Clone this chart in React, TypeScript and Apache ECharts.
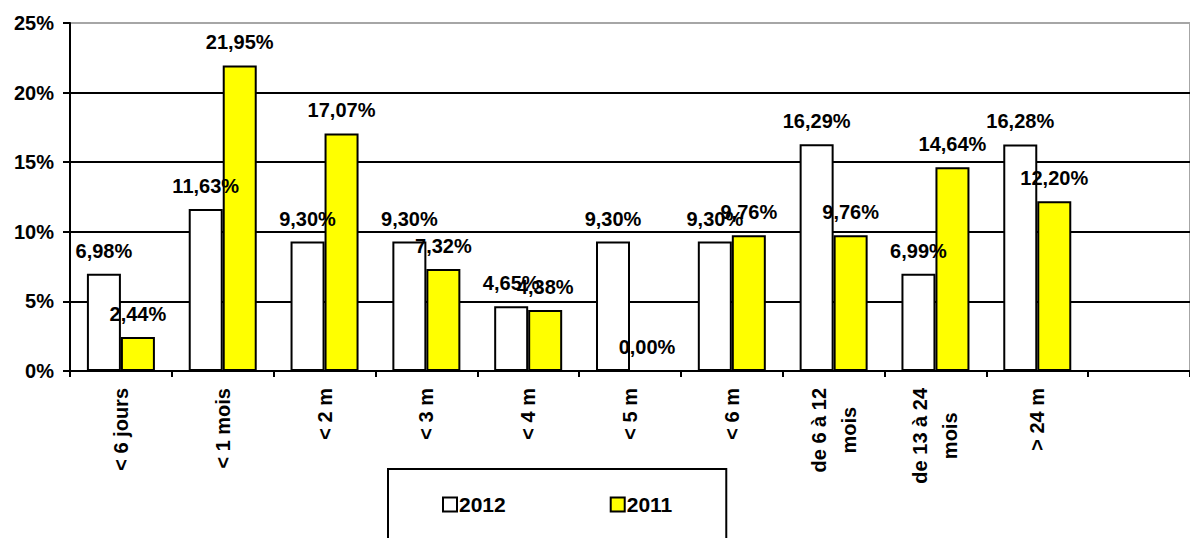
import React, { useEffect, useRef } from "react";
import * as echarts from "echarts";

const categories = [
  "< 6 jours",
  "< 1 mois",
  "< 2 m",
  "< 3 m",
  "< 4 m",
  "< 5 m",
  "< 6 m",
  "de 6 à 12\nmois",
  "de 13 à 24\nmois",
  "> 24 m",
];
const values2012 = [6.98, 11.63, 9.3, 9.3, 4.65, 9.3, 9.3, 16.29, 6.99, 16.28];
const values2011 = [2.44, 21.95, 17.07, 7.32, 4.38, 0.0, 9.76, 9.76, 14.64, 12.2];
const yTicks = [0, 5, 10, 15, 20, 25];

const FONT = "'Liberation Sans', Arial, sans-serif";
const FS = 20;

const fmtPct = (v: number) => v.toFixed(2).replace(".", ",") + "%";

export default function App() {
  const ref = useRef<HTMLDivElement>(null);
  useEffect(() => {
    if (!ref.current) return;
    const chart = echarts.init(ref.current, undefined, { renderer: "svg" });
    const labelStyle = {
      show: true,
      position: "top" as const,
      distance: 13,
      color: "#000",
      fontFamily: FONT,
      fontWeight: "bold" as const,
      fontSize: FS,
      formatter: (p: any) => fmtPct(p.value),
    };
    chart.setOption({
      animation: false,
      backgroundColor: "#fff",
      textStyle: { fontFamily: FONT },
      grid: {
        left: 70,
        right: -9,
        top: 23,
        bottom: 167,
        containLabel: false,
        show: true,
        borderColor: "#a6a6a6",
        borderWidth: 2,
      },
      legend: {
        data: ["2012", "2011"],
        left: 388,
        top: 469,
        orient: "horizontal",
        itemWidth: 14,
        itemHeight: 14,
        itemGap: 104,
        padding: [25, 54, 60, 54],
        borderColor: "#000",
        borderWidth: 2,
        icon: "rect",
        textStyle: {
          fontFamily: FONT,
          fontWeight: "bold",
          fontSize: 21,
          color: "#000",
          padding: [0, 0, 0, -3],
        },
      },
      xAxis: {
        type: "category",
        data: categories,
        max: categories.length,
        axisLine: { lineStyle: { color: "#000", width: 2 } },
        axisTick: { show: true, interval: 0, length: 6, lineStyle: { color: "#000", width: 2 } },
        axisLabel: {
          interval: 0,
          rotate: 90,
          margin: 17,
          color: "#000",
          fontFamily: FONT,
          fontWeight: "bold",
          fontSize: FS,
          lineHeight: 30,
          formatter: (v: string) =>
            v.indexOf("\n") >= 0
              ? v
                  .split("\n")
                  .map((s) => `{c|${s}}`)
                  .join("\n")
              : v,
          rich: {
            c: {
              align: "center",
              color: "#000",
              fontFamily: FONT,
              fontWeight: "bold",
              fontSize: FS,
              lineHeight: 30,
            },
          },
        },
        splitLine: { show: false },
      },
      yAxis: {
        type: "value",
        min: yTicks[0],
        max: yTicks[yTicks.length - 1],
        interval: 5,
        axisLine: { show: true, lineStyle: { color: "#000", width: 2 } },
        axisTick: { show: true, length: 7, lineStyle: { color: "#000", width: 2 } },
        axisLabel: {
          margin: 16,
          color: "#000",
          fontFamily: FONT,
          fontWeight: "bold",
          fontSize: FS,
          formatter: "{value}%",
        },
        splitLine: {
          show: true,
          showMaxLine: false,
          lineStyle: { color: "#000", width: 2 },
        },
      },
      series: [
        {
          name: "2012",
          type: "bar",
          data: values2012,
          barWidth: 34,
          barGap: "0%",
          itemStyle: { color: "#ffffff", borderColor: "#000", borderWidth: 2 },
          label: labelStyle,
        },
        {
          name: "2011",
          type: "bar",
          data: values2011,
          barWidth: 34,
          barGap: "0%",
          itemStyle: { color: "#ffff00", borderColor: "#000", borderWidth: 2 },
          label: labelStyle,
        },
      ],
    });
    return () => chart.dispose();
  }, []);
  return (
    <div
      ref={ref}
      style={{ position: "absolute", left: 0, top: 0, width: 1190, height: 538 }}
    />
  );
}
